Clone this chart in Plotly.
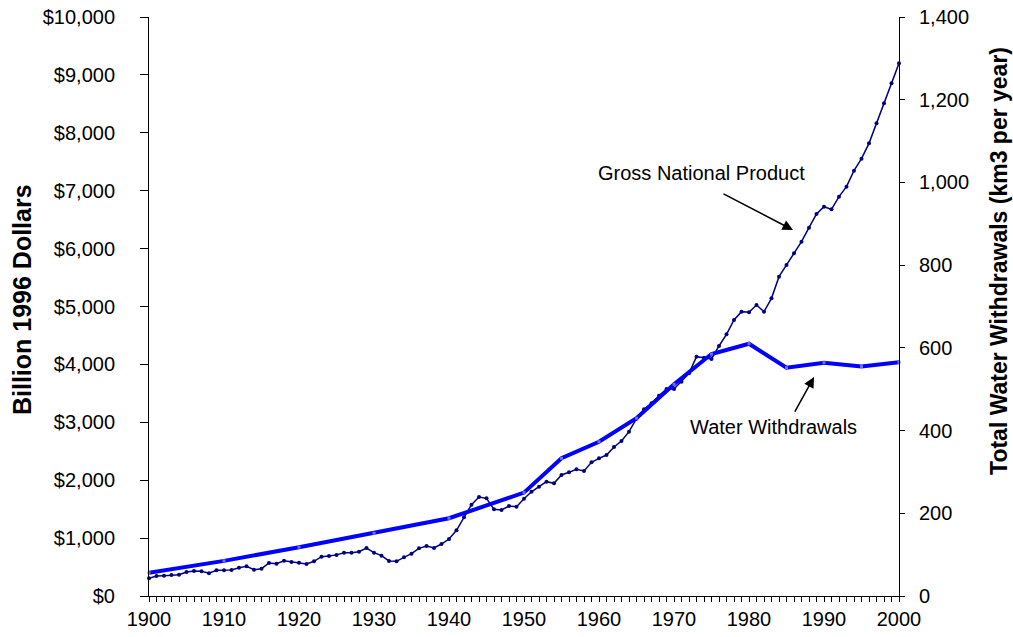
import plotly.graph_objects as go

# ---- data ----
gnp_years = list(range(1900, 2001))
gnp_values = [
    305, 345, 351, 363, 368, 415, 432, 426, 392, 443,   # 1900-1909
    443, 449, 489, 512, 455, 472, 570, 558, 610, 587,   # 1910-1919
    575, 553, 599, 679, 691, 710, 748, 748, 766, 829,   # 1920-1929
    748, 697, 605, 599, 668, 731, 823, 864, 829, 898,   # 1930-1939
    984, 1134, 1359, 1577, 1710, 1687, 1497, 1485, 1554, 1543,  # 1940-1949
    1680, 1800, 1888, 1975, 1946, 2090, 2136, 2188, 2159, 2309,  # 1950-1959
    2378, 2435, 2573, 2677, 2838, 3063, 3224, 3328, 3460, 3575,  # 1960-1969
    3575, 3702, 3846, 4134, 4116, 4095, 4318, 4519, 4767, 4911,  # 1970-1979
    4900, 5026, 4911, 5141, 5515, 5717, 5919, 6120, 6362, 6598,  # 1980-1989
    6724, 6678, 6897, 7070, 7346, 7553, 7818, 8164, 8509, 8855,  # 1990-1999
    9200,                                                        # 2000
]

water_years = [1900, 1910, 1920, 1930, 1940, 1950, 1955, 1960, 1965, 1970,
               1975, 1980, 1985, 1990, 1995, 2000]
water_values = [56, 85, 118, 152, 188, 250, 333, 373, 430, 512,
                585, 610, 552, 564, 555, 565]

left_ticks = list(range(0, 10001, 1000))
left_labels = ["${:,}".format(v) for v in left_ticks]
right_ticks = list(range(0, 1401, 200))
right_labels = ["{:,}".format(v) for v in right_ticks]
x_ticks = list(range(1900, 2001, 10))

FONT = "Liberation Sans, Arial, sans-serif"

fig = go.Figure()

fig.add_trace(go.Scatter(
    x=water_years, y=water_values, yaxis="y2", mode="lines+markers",
    line=dict(color="#0000FF", width=4),
    marker=dict(symbol="square", size=3, color="#6f6fff"),
    cliponaxis=False, name="Water Withdrawals", showlegend=False,
))

fig.add_trace(go.Scatter(
    x=gnp_years, y=gnp_values, mode="lines+markers",
    line=dict(color="#000080", width=1.5),
    marker=dict(symbol="circle", size=4, color="#000080"),
    cliponaxis=False, name="Gross National Product", showlegend=False,
))

fig.update_layout(
    width=1013, height=637, autosize=False,
    margin=dict(l=149, r=114, t=17, b=41, pad=0, autoexpand=False),
    paper_bgcolor="white", plot_bgcolor="white",
    font=dict(family=FONT, size=20, color="black"),
    xaxis=dict(
        range=[1900, 2000], tickvals=x_ticks, showgrid=False, zeroline=False,
        showline=True, linecolor="black", linewidth=1, automargin=False,
        ticks="outside", ticklen=5, tickcolor="black", ticklabeloverflow="allow",
        minor=dict(dtick=1, tick0=1900, ticks="outside", ticklen=5, tickcolor="black"),
        tickfont=dict(size=20),
    ),
    yaxis=dict(
        range=[0, 10000], tickvals=left_ticks, ticktext=left_labels,
        showgrid=False, zeroline=False, showline=True, linecolor="black", linewidth=1,
        automargin=False, ticklabeloverflow="allow",
        ticks="outside", ticklen=8, tickcolor="black", ticklabelstandoff=21,
        tickfont=dict(size=20),
    ),
    yaxis2=dict(
        range=[0, 1400], tickvals=right_ticks, ticktext=right_labels,
        overlaying="y", side="right", showgrid=False, zeroline=False,
        showline=True, linecolor="black", linewidth=1, automargin=False,
        ticklabeloverflow="allow",
        ticks="outside", ticklen=5, tickcolor="black", ticklabelstandoff=10,
        tickfont=dict(size=20),
    ),
)

annotations = [
    dict(text="<b>Billion 1996 Dollars</b>", xref="paper", yref="paper",
         x=-0.1693, y=0.5112, textangle=-90, showarrow=False,
         xanchor="center", yanchor="middle", font=dict(size=25)),
    dict(text="<b>Total Water Withdrawals (km3 per year)</b>", xref="paper", yref="paper",
         x=1.1333, y=0.5786, textangle=-90, showarrow=False,
         xanchor="center", yanchor="middle", font=dict(size=23)),
    dict(text="Gross National Product", x=1973.6, y=7306, xref="x", yref="y",
         showarrow=False, font=dict(size=20)),
    dict(text="", x=1985.87, y=6321, xref="x", yref="y", showarrow=True,
         ax=-71, ay=-37, arrowhead=2, arrowsize=1.4, arrowwidth=1.5, arrowcolor="black"),
    dict(text="Water Withdrawals", x=1983.2, y=2919, xref="x", yref="y",
         showarrow=False, font=dict(size=20)),
    dict(text="", x=1988.67, y=3782, xref="x", yref="y", showarrow=True,
         ax=-20, ay=36, arrowhead=2, arrowsize=1.4, arrowwidth=1.5, arrowcolor="black"),
]
fig.update_layout(annotations=annotations)

# remove the default 8px page margin so the 1013x637 figure fills the window exactly
fig.write_html("out.html", config={"displayModeBar": False},
               post_script="document.body.style.margin='0';")
